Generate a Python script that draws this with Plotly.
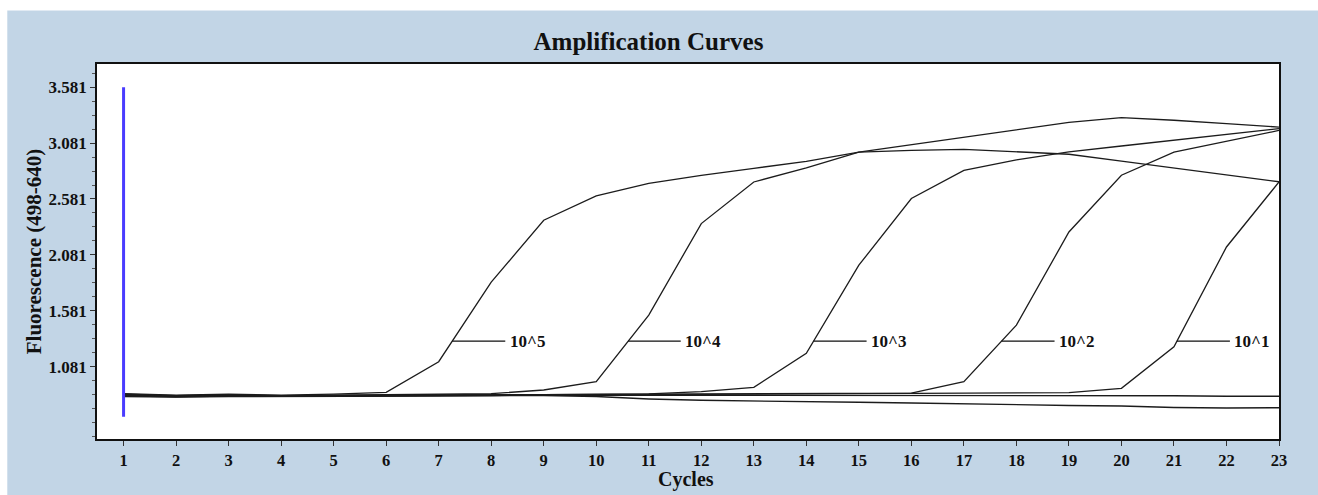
import plotly.graph_objects as go

# ---------------- data ----------------
cycles = list(range(1, 24))

curve_1e5 = [0.840, 0.826, 0.836, 0.828, 0.836, 0.852, 1.126, 1.837, 2.391, 2.608, 2.721, 2.793,
             2.855, 2.918, 3.000, 3.016, 3.025, 3.002, 2.981, 2.919, 2.858, 2.796, 2.735]
curve_1e4 = [0.832, 0.818, 0.830, 0.820, 0.826, 0.830, 0.832, 0.840, 0.873, 0.947, 1.543, 2.361,
             2.733, 2.860, 3.000, 3.065, 3.132, 3.197, 3.266, 3.308, 3.285, 3.254, 3.224]
curve_1e3 = [0.826, 0.814, 0.822, 0.817, 0.821, 0.824, 0.828, 0.830, 0.834, 0.836, 0.838, 0.859,
             0.897, 1.201, 1.989, 2.585, 2.837, 2.930, 3.003, 3.055, 3.107, 3.158, 3.210]
curve_1e2 = [0.836, 0.822, 0.832, 0.823, 0.824, 0.828, 0.830, 0.831, 0.832, 0.834, 0.835, 0.836,
             0.838, 0.840, 0.841, 0.846, 0.947, 1.453, 2.286, 2.793, 3.000, 3.096, 3.194]
curve_1e1 = [0.820, 0.812, 0.818, 0.816, 0.819, 0.822, 0.824, 0.826, 0.828, 0.830, 0.832, 0.833,
             0.834, 0.835, 0.837, 0.838, 0.840, 0.842, 0.849, 0.888, 1.260, 2.152, 2.733]
negative_a = [0.814, 0.810, 0.814, 0.814, 0.816, 0.818, 0.820, 0.822, 0.824, 0.815, 0.793, 0.781,
              0.777, 0.770, 0.763, 0.757, 0.748, 0.739, 0.735, 0.730, 0.717, 0.712, 0.715]
negative_b = [0.824, 0.816, 0.826, 0.818, 0.822, 0.824, 0.825, 0.826, 0.826, 0.826, 0.826, 0.826,
              0.824, 0.823, 0.822, 0.822, 0.823, 0.822, 0.822, 0.821, 0.822, 0.817, 0.817]

curve_names = ["10^5", "10^4", "10^3", "10^2", "10^1"]
curves = [curve_1e5, curve_1e4, curve_1e3, curve_1e2, curve_1e1]

y_tick_vals = [1.081, 1.581, 2.081, 2.581, 3.081, 3.581]
y_tick_text = ["1.081", "1.581", "2.081", "2.581", "3.081", "3.581"]
x_tick_vals = cycles

marker_cycle = [1, 1]
marker_level = [3.581, 0.635]
label_level = 1.31

# ---------------- figure ----------------
BG = "#c2d5e6"
FONT = "Liberation Serif"
LINE = "#1c1c1c"

fig = go.Figure()

for ys in (negative_a, negative_b):
    fig.add_trace(go.Scatter(x=cycles, y=ys, mode="lines",
                             line=dict(color=LINE, width=1.4), hoverinfo="skip", showlegend=False))

for name, ys in zip(curve_names, curves):
    fig.add_trace(go.Scatter(x=cycles, y=ys, mode="lines", name=name,
                             line=dict(color=LINE, width=1.3), showlegend=False))

fig.add_trace(go.Scatter(x=marker_cycle, y=marker_level, mode="lines",
                         line=dict(color="#4a3cff", width=3), showlegend=False))


def crossing(xs, ys, level):
    for i in range(len(ys) - 1):
        if ys[i] < level <= ys[i + 1]:
            return xs[i] + (level - ys[i]) / (ys[i + 1] - ys[i]) * (xs[i + 1] - xs[i])
    return xs[-1]


for name, ys in zip(curve_names, curves):
    fig.add_annotation(x=crossing(cycles, ys, label_level), y=label_level, text=name,
                       showarrow=True, arrowhead=0, arrowwidth=1.3, arrowcolor="#111",
                       ax=75, ay=0, borderpad=4,
                       font=dict(family=FONT, size=17, color="#111", weight="bold"))

# x-axis title
fig.add_annotation(text="Cycles", xref="paper", yref="paper", x=0.4985, y=-0.109,
                   xanchor="center", yanchor="middle", showarrow=False, borderpad=0,
                   font=dict(family=FONT, size=20, color="#111", weight="bold"))

# white strips at top and left of the picture
fig.add_shape(type="rect", xref="paper", yref="paper", x0=-0.2, x1=1.2, y0=1.1425, y1=1.3,
              fillcolor="white", line=dict(width=0), layer="below")
fig.add_shape(type="rect", xref="paper", yref="paper", x0=-0.2, x1=-0.0759, y0=-0.3, y1=1.3,
              fillcolor="white", line=dict(width=0), layer="below")

fig.update_layout(
    width=1318, height=495,
    paper_bgcolor=BG, plot_bgcolor="white",
    margin=dict(l=97, r=39, t=64, b=56),
    title=dict(text="Amplification Curves", x=0.492, xanchor="center", y=0.917, yanchor="middle",
               xref="container", yref="container",
               font=dict(family=FONT, size=25, color="#111", weight="bold")),
    font=dict(family=FONT, color="#111"),
)

fig.update_xaxes(
    range=[0.494, 23], tickmode="array", tickvals=x_tick_vals, ticktext=[str(c) for c in x_tick_vals],
    ticks="outside", ticklen=5, tickcolor="#333", tickwidth=1, automargin=False,
    tickfont=dict(family=FONT, size=16.5, color="#111", weight="bold"),
    showline=True, linecolor="#111", linewidth=1.5, mirror=True, showgrid=False, zeroline=False,
)
fig.update_yaxes(
    range=[0.435, 3.788], tickmode="array", tickvals=y_tick_vals, ticktext=y_tick_text,
    ticks="outside", ticklen=5, tickcolor="#333", tickwidth=1, automargin=False,
    minor=dict(dtick=0.125, tick0=0.081, ticks="outside", ticklen=3, tickcolor="#555", showgrid=False),
    tickfont=dict(family=FONT, size=17, color="#111", weight="bold"),
    showline=True, linecolor="#111", linewidth=1.5, mirror=True, showgrid=False, zeroline=False,
    title=dict(text="Fluorescence (498-640)", standoff=1,
               font=dict(family=FONT, size=21, color="#111", weight="bold")),
)

fig.write_html("out.html")
